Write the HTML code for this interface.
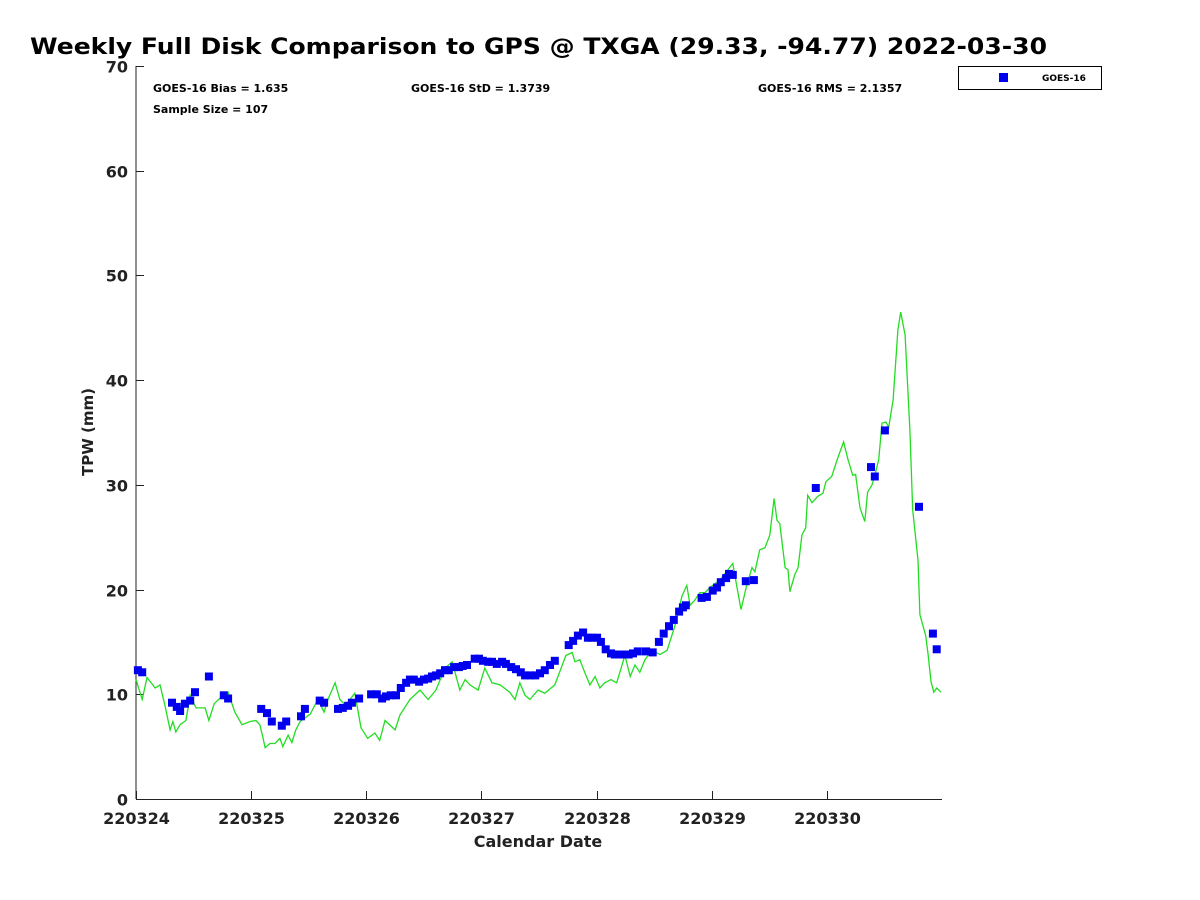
<!DOCTYPE html>
<html><head><meta charset="utf-8"><style>
body{margin:0;background:#fff;}
svg{display:block;font-family:"DejaVu Sans","Liberation Sans",sans-serif;}
</style></head><body>
<svg id="chart" width="1200" height="900" viewBox="0 0 1200 900">
<rect width="1200" height="900" fill="#fff"/>
<text x="30" y="54" font-size="22" font-weight="bold" fill="#000" textLength="1017" lengthAdjust="spacingAndGlyphs">Weekly Full Disk Comparison to GPS @ TXGA (29.33, -94.77) 2022-03-30</text>
<g id="axes"></g>
<g id="series"></g>
<text x="153" y="92" font-size="11" font-weight="bold">GOES-16 Bias = 1.635</text>
<text x="153" y="113" font-size="11" font-weight="bold">Sample Size = 107</text>
<text x="411" y="92" font-size="11" font-weight="bold">GOES-16 StD = 1.3739</text>
<text x="758" y="92" font-size="11" font-weight="bold">GOES-16 RMS = 2.1357</text>
<g>
<rect x="958.5" y="66.5" width="143" height="23" fill="#fff" stroke="#000" stroke-width="1"/>
<rect x="999" y="73" width="9" height="9" fill="#0000ee"/>
<text x="1042" y="81" font-size="9" font-weight="bold">GOES-16</text>
</g>
<text x="538" y="847" font-size="16" font-weight="bold" text-anchor="middle" fill="#222">Calendar Date</text>
<text transform="translate(93,432) rotate(-90)" font-size="15" font-weight="bold" text-anchor="middle" fill="#222">TPW (mm)</text>
</svg>
<script>
const xTickLabels=["220324","220325","220326","220327","220328","220329","220330"];
const yTicks=[0,10,20,30,40,50,60,70];
const gpsHours=[0,1.3,2.3,4.0,5.0,6.0,7.1,7.7,8.3,9.2,10.4,11.3,12.5,14.4,15.2,16.3,17.9,19.2,20.6,22.1,23.8,25.0,25.8,26.5,26.9,27.9,29.0,30.0,30.6,31.7,32.5,33.3,34.2,36.3,37.9,39.2,40.0,41.5,42.5,43.6,44.6,45.6,46.9,48.3,49.8,50.8,51.9,54.0,55.0,57.1,59.2,60.9,62.5,64.4,65.9,67.5,68.6,69.6,71.3,72.7,74.2,75.9,77.9,79.0,80.0,81.1,82.1,83.8,85.2,87.3,89.6,90.9,91.5,92.5,93.6,94.6,95.7,96.7,97.7,99.0,100.2,101.9,103.0,104.0,105.0,106.1,107.5,109.2,110.7,112.3,113.8,114.8,115.5,116.5,117.5,118.6,119.6,121.7,124.4,125.0,126.1,127.3,128.4,129.0,130.0,131.1,132.1,133.0,133.6,134.2,135.3,135.9,136.3,137.3,138.0,138.8,139.6,140.0,140.9,142.1,143.2,143.8,145.0,146.3,147.5,148.4,149.4,150.0,150.9,151.9,152.5,153.4,154.0,154.8,155.5,156.3,156.9,157.8,158.8,159.4,160.3,161.3,161.9,163.0,163.4,164.6,165.1,165.7,166.3,166.9,167.8];
const gpsTpw=[11.4,9.5,11.6,10.6,10.9,9.0,6.6,7.4,6.4,7.1,7.5,9.9,8.7,8.7,7.5,9.1,9.8,10.2,8.3,7.1,7.4,7.5,7.1,5.8,4.9,5.3,5.3,5.8,5.0,6.1,5.4,6.6,7.4,8.1,9.5,8.3,9.5,11.1,9.5,9.0,9.5,10.1,6.8,5.8,6.3,5.6,7.5,6.6,8.0,9.5,10.4,9.5,10.4,12.5,13.1,10.4,11.4,10.9,10.4,12.5,11.1,10.9,10.2,9.5,11.1,9.9,9.5,10.4,10.1,10.9,13.7,14.0,13.1,13.3,12.0,10.9,11.7,10.6,11.1,11.4,11.1,13.7,11.7,12.8,12.1,13.3,14.2,13.8,14.2,16.5,19.4,20.4,18.5,19.0,19.7,19.7,20.2,20.9,22.5,20.9,18.1,20.4,22.1,21.7,23.8,24.0,25.2,28.7,26.6,26.3,22.1,21.9,19.8,21.4,22.1,25.2,25.9,29.0,28.3,28.9,29.2,30.3,30.8,32.6,34.1,32.4,30.9,31.0,27.8,26.5,29.3,30.0,30.9,32.4,35.9,36.0,35.5,38.1,44.8,46.5,44.3,35.2,27.6,22.8,17.6,15.6,13.8,11.2,10.2,10.6,10.2];
const goesHours=[0.4,1.3,7.5,8.5,9.2,10.2,11.3,12.3,15.2,18.3,19.2,26.1,27.3,28.3,30.4,31.3,34.4,35.2,38.3,39.2,42.1,43.1,44.2,45.0,46.5,49.0,50.2,51.3,52.1,53.1,54.2,55.2,56.3,57.1,57.9,59.0,60.0,60.9,61.7,62.5,63.4,64.4,65.2,66.3,67.3,68.1,69.0,70.6,71.5,72.3,73.4,74.2,75.2,76.3,77.1,78.2,79.2,80.2,81.1,82.1,83.2,84.2,85.2,86.3,87.3,90.2,91.1,92.1,93.2,94.2,95.0,96.1,96.9,97.9,99.0,99.8,100.9,101.9,102.7,103.6,104.6,106.3,107.7,109.0,110.0,111.1,112.1,113.2,114.0,114.6,117.9,119.0,120.2,121.1,121.9,123.0,123.6,124.4,127.1,128.8,141.7,153.2,154.0,156.1,163.2,166.1,166.9];
const goesTpw=[12.3,12.1,9.2,8.8,8.4,9.1,9.4,10.2,11.7,9.9,9.6,8.6,8.2,7.4,7.0,7.4,7.9,8.6,9.4,9.2,8.6,8.7,8.9,9.2,9.6,10.0,10.0,9.6,9.8,9.9,9.9,10.6,11.1,11.4,11.4,11.2,11.4,11.5,11.7,11.8,12.0,12.3,12.3,12.6,12.6,12.7,12.8,13.4,13.4,13.2,13.1,13.1,12.9,13.1,12.9,12.6,12.4,12.1,11.8,11.8,11.8,12.0,12.3,12.8,13.2,14.7,15.1,15.6,15.9,15.4,15.4,15.4,15.0,14.3,13.9,13.8,13.8,13.8,13.8,13.9,14.1,14.1,14.0,15.0,15.8,16.5,17.1,17.9,18.3,18.5,19.2,19.3,19.9,20.2,20.7,21.1,21.5,21.4,20.8,20.9,29.7,31.7,30.8,35.2,27.9,15.8,14.3];

const NS='http://www.w3.org/2000/svg';
const L=136,R=942,T=66,B=799;
const xs=h=>L+(R-L)*h/168;
const ys=v=>B-(B-T)*v/70;
function mk(tag,attrs,parent){const e=document.createElementNS(NS,tag);for(const k in attrs)e.setAttribute(k,attrs[k]);parent.appendChild(e);return e;}
const ax=document.getElementById('axes');
let a=mk('line',{x1:L,y1:T,x2:L,y2:B,stroke:'#222','stroke-width':1},ax);


a=mk('line',{x1:L,y1:B+.5,x2:R,y2:B+.5,stroke:'#222','stroke-width':1},ax);


yTicks.forEach(v=>{
  const y=Math.round(ys(v))+.5;
  const t=mk('line',{x1:L,y1:y,x2:L+8,y2:y,stroke:'#222'},ax);
  
  
  const tx=mk('text',{x:L-8,y:y+6,'font-size':16,'font-weight':'bold','text-anchor':'end',fill:'#222'},ax);
  tx.textContent=v;
  
  
});
xTickLabels.forEach((lab,i)=>{
  const x=Math.round(xs(i*24))+.5;
  const t=mk('line',{x1:x,y1:B,x2:x,y2:B-8,stroke:'#222'},ax);
  
  
  const tx=mk('text',{x:x,y:B+25,'font-size':16,'font-weight':'bold','text-anchor':'middle',fill:'#222'},ax);
  tx.textContent=lab;
  
  
});
const sg=document.getElementById('series');
const pts=gpsHours.map((h,i)=>xs(h).toFixed(1)+','+ys(gpsTpw[i]).toFixed(1)).join(' ');
const line=mk('polyline',{points:pts,fill:'none',stroke:'#22dd22','stroke-width':1.3},sg);


goesHours.forEach((h,i)=>{
  const r=mk('rect',{x:(xs(h)-4).toFixed(1),y:(ys(goesTpw[i])-4).toFixed(1),width:8,height:8,fill:'#0000ee'},sg);
  
  
});
</script>
</body></html>
